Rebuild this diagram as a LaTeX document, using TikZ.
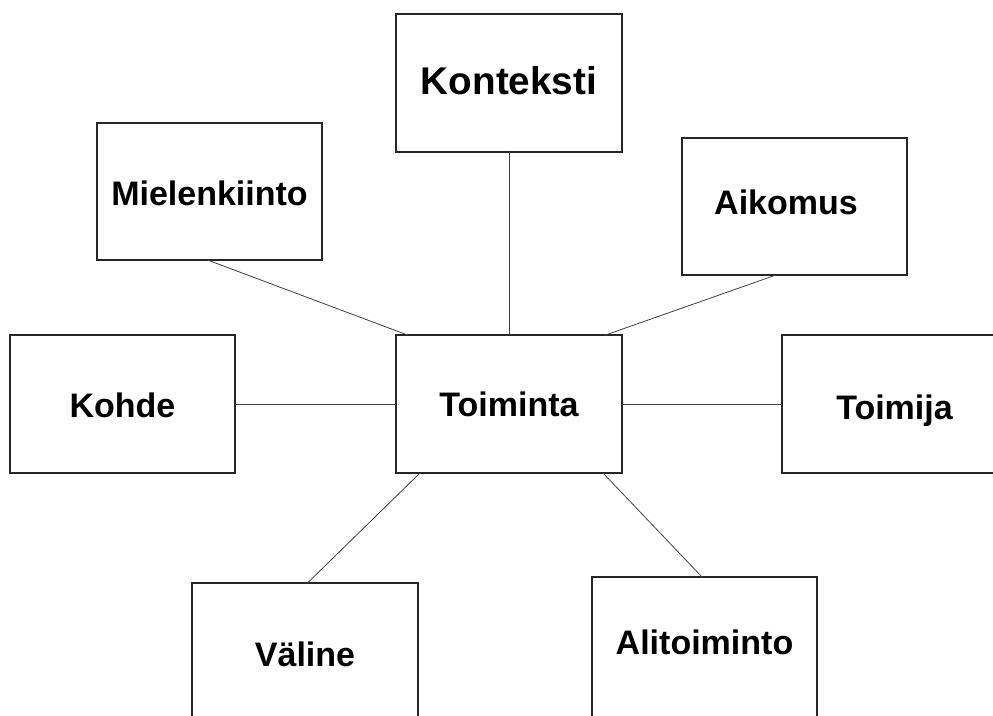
\documentclass[tikz,border=0pt]{standalone}
\usepackage{fontspec}
\setmainfont{Liberation Sans}
\usetikzlibrary{calc}

\begin{document}
\begin{tikzpicture}[x=0.75pt, y=0.75pt,
  box/.style={rectangle, draw=black!85, line width=1.5pt, fill=white,
    minimum width=169pt, minimum height=103pt, inner sep=0pt, outer sep=0pt,
    text height=18.7pt, text depth=0pt,
    font=\fontsize{25.5}{30}\selectfont\bfseries},
  link/.style={draw=black!75, line width=0.6pt}]
\useasboundingbox (0,0) rectangle (993,715);
\clip (0,0) rectangle (993,715);

\node[box] (toiminta) at (509,311) {Toiminta};
\node[box, text height=17.8pt, font=\fontsize{29}{34}\selectfont\bfseries] (konteksti) at ($(toiminta) + (0,321)$) {Konteksti};
\node[box, text height=20.5pt] (mielenkiinto) at ($(toiminta) + (-299.5,212.5)$) {Mielenkiinto};
\node[box, text height=12.3pt] (aikomus) at ($(toiminta) + (285.5,197.5)$) {\hspace{-12.75pt}Aikomus};
\node[box, text height=19.8pt] (kohde) at ($(toiminta) + (-386.5,0)$) {Kohde};
\node[box, text height=23.5pt] (toimija) at ($(toiminta) + (385.5,0)$) {Toimija};
\node[box, minimum height=106.5pt, text height=18.3pt] (valine) at ($(toiminta) + (-204,-250)$) {Väline};
\node[box, minimum height=106.5pt, text height=10.1pt] (alitoiminto) at ($(toiminta) + (195.5,-244)$) {Alitoiminto};

% spokes
\draw[link] (konteksti.south) -- (toiminta.north);
\draw[link] ($(mielenkiinto.south) + (-1.5,0)$) -- ($(toiminta.north west) + (12,0)$);
\draw[link] ($(aikomus.south) + (-19,0)$) -- ($(toiminta.north east) + (-17,0)$);
\draw[link] (kohde.east) -- (toiminta.west);
\draw[link] (toiminta.east) -- (toimija.west);
\draw[link] ($(toiminta.south west) + (24,0)$) -- ($(valine.north) + (2.5,0)$);
\draw[link] ($(toiminta.south east) + (-19,0)$) -- ($(alitoiminto.north) + (-2.5,0)$);

\end{tikzpicture}
\end{document}
